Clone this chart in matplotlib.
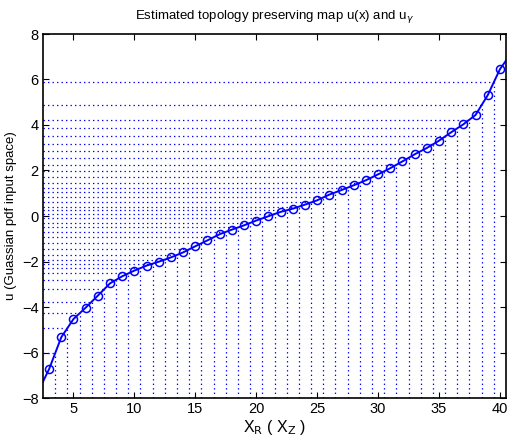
import numpy as np
import matplotlib
matplotlib.use('Agg')
import matplotlib.pyplot as plt

# sample positions and estimated map values
x = np.arange(3, 41)
u = [-6.73, -5.33, -4.53, -4.03, -3.50, -2.96, -2.65, -2.40, -2.18, -2.01,
     -1.82, -1.60, -1.33, -1.07, -0.80, -0.60, -0.41, -0.20, -0.01, 0.18,
     0.32, 0.50, 0.69, 0.94, 1.14, 1.35, 1.57, 1.83, 2.10, 2.40,
     2.71, 2.99, 3.31, 3.68, 4.03, 4.44, 5.31, 6.45]
# curve continues to the axis limits
x_ends = [2.5, 40.5]
u_ends = [-7.28, 6.83]

plt.rcParams['font.family'] = ['Liberation Sans', 'DejaVu Sans']

fig = plt.figure(figsize=(5.07, 4.40), dpi=100)
ax = fig.add_axes([43 / 507, 42 / 440, 463 / 507, 364 / 440])

u = np.array(u)
xm = (x[:-1] + x[1:]) / 2.0
um = (u[:-1] + u[1:]) / 2.0

dots = dict(color='#0000ff', lw=0.9, linestyle=(0, (1.1, 2.5)))
for xi, ui in zip(xm, um):
    ax.plot([x_ends[0], xi], [ui, ui], **dots)
    ax.plot([xi, xi], [-8, ui], **dots)

xc = np.concatenate([[x_ends[0]], x, [x_ends[1]]])
uc = np.concatenate([[u_ends[0]], u, [u_ends[1]]])
ax.plot(xc, uc, '-', color='#0000ff', lw=1.4)
ax.plot(x, u, 'o', mfc='none', mec='#0000ff', ms=5.8, mew=1.1)

ax.set_xlim(2.5, 40.5)
ax.set_ylim(-8, 8)
ax.set_xticks(range(5, 41, 5))
ax.set_yticks(range(-8, 9, 2))
ax.tick_params(direction='in', top=True, right=True, length=4, width=0.8,
               labelsize=10.5, pad=3)
for s in ax.spines.values():
    s.set_linewidth(1.2)

ax.set_title(r'Estimated topology preserving map u(x) and u$_\gamma$',
             fontsize=9.5, pad=11)
ax.set_ylabel('u (Guassian pdf input space)', fontsize=9.5, labelpad=4)
ax.set_xlabel(r'X$_\mathrm{R}$ ( X$_\mathrm{Z}$ )', fontsize=11.5, labelpad=1)

fig.savefig('out.png', dpi=100, facecolor='white')
